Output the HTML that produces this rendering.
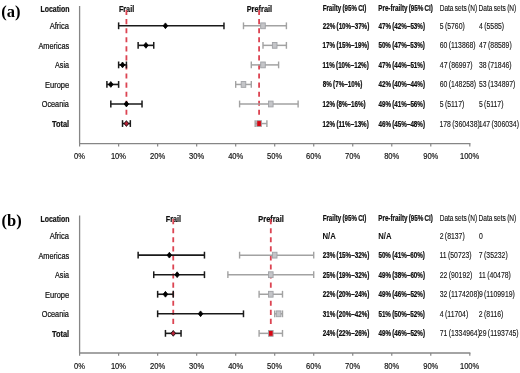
<!DOCTYPE html>
<html><head><meta charset="utf-8"><style>
html,body{margin:0;padding:0;background:#fff;}
svg{display:block;will-change:transform;}
text{font-family:"Liberation Sans",sans-serif;}
text.serif{font-family:"Liberation Serif",serif;}
</style></head><body>
<svg width="520" height="373" viewBox="0 0 520 373">
<rect width="520" height="373" fill="#fff"/>
<line x1="79.6" y1="6" x2="79.6" y2="143.6" stroke="#868686" stroke-width="1.3"/>
<line x1="79.0" y1="143.6" x2="470.4" y2="143.6" stroke="#868686" stroke-width="1.4"/>
<line x1="79.60" y1="143.6" x2="79.60" y2="146.4" stroke="#868686" stroke-width="1.2"/>
<text x="74.11" y="159.00" font-size="9.0" font-weight="normal" textLength="10.94" lengthAdjust="spacingAndGlyphs" fill="#111" stroke="#111" stroke-width="0.18">0%</text>
<line x1="118.62" y1="143.6" x2="118.62" y2="146.4" stroke="#868686" stroke-width="1.2"/>
<text x="110.90" y="159.00" font-size="9.0" font-weight="normal" textLength="15.14" lengthAdjust="spacingAndGlyphs" fill="#111" stroke="#111" stroke-width="0.18">10%</text>
<line x1="157.64" y1="143.6" x2="157.64" y2="146.4" stroke="#868686" stroke-width="1.2"/>
<text x="150.02" y="159.00" font-size="9.0" font-weight="normal" textLength="15.14" lengthAdjust="spacingAndGlyphs" fill="#111" stroke="#111" stroke-width="0.18">20%</text>
<line x1="196.66" y1="143.6" x2="196.66" y2="146.4" stroke="#868686" stroke-width="1.2"/>
<text x="189.07" y="159.00" font-size="9.0" font-weight="normal" textLength="15.14" lengthAdjust="spacingAndGlyphs" fill="#111" stroke="#111" stroke-width="0.18">30%</text>
<line x1="235.68" y1="143.6" x2="235.68" y2="146.4" stroke="#868686" stroke-width="1.2"/>
<text x="228.17" y="159.00" font-size="9.0" font-weight="normal" textLength="15.14" lengthAdjust="spacingAndGlyphs" fill="#111" stroke="#111" stroke-width="0.18">40%</text>
<line x1="274.70" y1="143.6" x2="274.70" y2="146.4" stroke="#868686" stroke-width="1.2"/>
<text x="267.11" y="159.00" font-size="9.0" font-weight="normal" textLength="15.14" lengthAdjust="spacingAndGlyphs" fill="#111" stroke="#111" stroke-width="0.18">50%</text>
<line x1="313.72" y1="143.6" x2="313.72" y2="146.4" stroke="#868686" stroke-width="1.2"/>
<text x="306.10" y="159.00" font-size="9.0" font-weight="normal" textLength="15.14" lengthAdjust="spacingAndGlyphs" fill="#111" stroke="#111" stroke-width="0.18">60%</text>
<line x1="352.74" y1="143.6" x2="352.74" y2="146.4" stroke="#868686" stroke-width="1.2"/>
<text x="345.12" y="159.00" font-size="9.0" font-weight="normal" textLength="15.14" lengthAdjust="spacingAndGlyphs" fill="#111" stroke="#111" stroke-width="0.18">70%</text>
<line x1="391.76" y1="143.6" x2="391.76" y2="146.4" stroke="#868686" stroke-width="1.2"/>
<text x="384.16" y="159.00" font-size="9.0" font-weight="normal" textLength="15.14" lengthAdjust="spacingAndGlyphs" fill="#111" stroke="#111" stroke-width="0.18">80%</text>
<line x1="430.78" y1="143.6" x2="430.78" y2="146.4" stroke="#868686" stroke-width="1.2"/>
<text x="423.18" y="159.00" font-size="9.0" font-weight="normal" textLength="15.14" lengthAdjust="spacingAndGlyphs" fill="#111" stroke="#111" stroke-width="0.18">90%</text>
<line x1="469.80" y1="143.6" x2="469.80" y2="146.4" stroke="#868686" stroke-width="1.2"/>
<text x="459.96" y="159.00" font-size="9.0" font-weight="normal" textLength="19.35" lengthAdjust="spacingAndGlyphs" fill="#111" stroke="#111" stroke-width="0.18">100%</text>
<text x="1.2" y="17.0" class="serif" font-size="16.5" font-weight="bold" fill="#000">(a)</text>
<text x="40.55" y="12.10" font-size="8.5" font-weight="bold" textLength="28.88" lengthAdjust="spacingAndGlyphs" fill="#111" stroke="#111" stroke-width="0.22">Location</text>
<text x="118.90" y="12.10" font-size="8.5" font-weight="bold" textLength="15.25" lengthAdjust="spacingAndGlyphs" fill="#111" stroke="#111" stroke-width="0.22">Frail</text>
<text x="246.66" y="12.10" font-size="8.5" font-weight="bold" textLength="25.47" lengthAdjust="spacingAndGlyphs" fill="#111" stroke="#111" stroke-width="0.22">Prefrail</text>
<text x="322.70" y="10.80" font-size="8.3" font-weight="bold" textLength="43.71" lengthAdjust="spacingAndGlyphs" fill="#111" stroke="#111" stroke-width="0.24">Frailty (95% CI)</text>
<text x="378.29" y="10.80" font-size="8.3" font-weight="bold" textLength="54.60" lengthAdjust="spacingAndGlyphs" fill="#111" stroke="#111" stroke-width="0.24">Pre-frailty (95% CI)</text>
<text x="439.68" y="10.80" font-size="8.3" font-weight="normal" textLength="37.45" lengthAdjust="spacingAndGlyphs" fill="#111" stroke="#111" stroke-width="0.12">Data sets (N)</text>
<text x="478.57" y="10.80" font-size="8.3" font-weight="normal" textLength="37.76" lengthAdjust="spacingAndGlyphs" fill="#111" stroke="#111" stroke-width="0.12">Data sets (N)</text>
<line x1="126.42" y1="10.0" x2="126.42" y2="115.2" stroke="#dc4452" stroke-width="1.8" stroke-dasharray="5.1 3.97"/>
<line x1="259.09" y1="10.0" x2="259.09" y2="115.2" stroke="#dc4452" stroke-width="1.8" stroke-dasharray="5.1 3.97"/>
<text x="49.70" y="29.20" font-size="8.5" font-weight="normal" textLength="19.31" lengthAdjust="spacingAndGlyphs" fill="#111" stroke="#111" stroke-width="0.22">Africa</text>
<line x1="243.48" y1="25.80" x2="286.41" y2="25.80" stroke="#a2a2a2" stroke-width="1.5"/>
<line x1="243.48" y1="22.40" x2="243.48" y2="29.20" stroke="#a2a2a2" stroke-width="1.4"/>
<line x1="286.41" y1="22.40" x2="286.41" y2="29.20" stroke="#a2a2a2" stroke-width="1.4"/>
<rect x="260.69" y="22.90" width="4.6" height="5.8" fill="#c4c5c8" stroke="#a0a2a6" stroke-width="0.9"/>
<line x1="118.62" y1="25.80" x2="223.97" y2="25.80" stroke="#1a1a1a" stroke-width="1.6"/>
<line x1="118.62" y1="22.40" x2="118.62" y2="29.20" stroke="#1a1a1a" stroke-width="1.5"/>
<line x1="223.97" y1="22.40" x2="223.97" y2="29.20" stroke="#1a1a1a" stroke-width="1.5"/>
<path d="M165.44 22.90 L167.74 25.80 L165.44 28.70 L163.14 25.80Z" fill="#000" stroke="#000" stroke-width="0.8"/>
<text x="322.78" y="28.80" font-size="8.3" font-weight="bold" textLength="46.51" lengthAdjust="spacingAndGlyphs" fill="#111" stroke="#111" stroke-width="0.24">22% (10%–37%)</text>
<text x="378.51" y="28.80" font-size="8.3" font-weight="bold" textLength="46.51" lengthAdjust="spacingAndGlyphs" fill="#111" stroke="#111" stroke-width="0.24">47% (42%–53%)</text>
<text x="439.73" y="28.80" font-size="8.3" font-weight="normal" textLength="25.03" lengthAdjust="spacingAndGlyphs" fill="#111" stroke="#111" stroke-width="0.12">5 (5760)</text>
<text x="479.06" y="28.80" font-size="8.3" font-weight="normal" textLength="25.03" lengthAdjust="spacingAndGlyphs" fill="#111" stroke="#111" stroke-width="0.12">4 (5585)</text>
<text x="38.40" y="48.75" font-size="8.5" font-weight="normal" textLength="30.84" lengthAdjust="spacingAndGlyphs" fill="#111" stroke="#111" stroke-width="0.22">Americas</text>
<line x1="262.99" y1="45.35" x2="286.41" y2="45.35" stroke="#a2a2a2" stroke-width="1.5"/>
<line x1="262.99" y1="41.95" x2="262.99" y2="48.75" stroke="#a2a2a2" stroke-width="1.4"/>
<line x1="286.41" y1="41.95" x2="286.41" y2="48.75" stroke="#a2a2a2" stroke-width="1.4"/>
<rect x="272.40" y="42.45" width="4.6" height="5.8" fill="#c4c5c8" stroke="#a0a2a6" stroke-width="0.9"/>
<line x1="138.13" y1="45.35" x2="153.74" y2="45.35" stroke="#1a1a1a" stroke-width="1.6"/>
<line x1="138.13" y1="41.95" x2="138.13" y2="48.75" stroke="#1a1a1a" stroke-width="1.5"/>
<line x1="153.74" y1="41.95" x2="153.74" y2="48.75" stroke="#1a1a1a" stroke-width="1.5"/>
<path d="M145.93 42.45 L148.23 45.35 L145.93 48.25 L143.63 45.35Z" fill="#000" stroke="#000" stroke-width="0.8"/>
<text x="322.62" y="48.35" font-size="8.3" font-weight="bold" textLength="46.51" lengthAdjust="spacingAndGlyphs" fill="#111" stroke="#111" stroke-width="0.24">17% (15%–19%)</text>
<text x="378.41" y="48.35" font-size="8.3" font-weight="bold" textLength="46.51" lengthAdjust="spacingAndGlyphs" fill="#111" stroke="#111" stroke-width="0.24">50% (47%–53%)</text>
<text x="439.66" y="48.35" font-size="8.3" font-weight="normal" textLength="35.96" lengthAdjust="spacingAndGlyphs" fill="#111" stroke="#111" stroke-width="0.12">60 (113868)</text>
<text x="479.06" y="48.35" font-size="8.3" font-weight="normal" textLength="32.66" lengthAdjust="spacingAndGlyphs" fill="#111" stroke="#111" stroke-width="0.12">47 (88589)</text>
<text x="55.00" y="68.30" font-size="8.5" font-weight="normal" textLength="14.00" lengthAdjust="spacingAndGlyphs" fill="#111" stroke="#111" stroke-width="0.22">Asia</text>
<line x1="251.29" y1="64.90" x2="278.60" y2="64.90" stroke="#a2a2a2" stroke-width="1.5"/>
<line x1="251.29" y1="61.50" x2="251.29" y2="68.30" stroke="#a2a2a2" stroke-width="1.4"/>
<line x1="278.60" y1="61.50" x2="278.60" y2="68.30" stroke="#a2a2a2" stroke-width="1.4"/>
<rect x="260.69" y="62.00" width="4.6" height="5.8" fill="#c4c5c8" stroke="#a0a2a6" stroke-width="0.9"/>
<line x1="118.62" y1="64.90" x2="126.42" y2="64.90" stroke="#1a1a1a" stroke-width="1.6"/>
<line x1="118.62" y1="61.50" x2="118.62" y2="68.30" stroke="#1a1a1a" stroke-width="1.5"/>
<line x1="126.42" y1="61.50" x2="126.42" y2="68.30" stroke="#1a1a1a" stroke-width="1.5"/>
<path d="M122.52 62.00 L124.82 64.90 L122.52 67.80 L120.22 64.90Z" fill="#000" stroke="#000" stroke-width="0.8"/>
<text x="322.62" y="67.90" font-size="8.3" font-weight="bold" textLength="46.17" lengthAdjust="spacingAndGlyphs" fill="#111" stroke="#111" stroke-width="0.24">11% (10%–12%)</text>
<text x="378.51" y="67.90" font-size="8.3" font-weight="bold" textLength="46.51" lengthAdjust="spacingAndGlyphs" fill="#111" stroke="#111" stroke-width="0.24">47% (44%–51%)</text>
<text x="439.86" y="67.90" font-size="8.3" font-weight="normal" textLength="32.66" lengthAdjust="spacingAndGlyphs" fill="#111" stroke="#111" stroke-width="0.12">47 (86997)</text>
<text x="478.93" y="67.90" font-size="8.3" font-weight="normal" textLength="32.66" lengthAdjust="spacingAndGlyphs" fill="#111" stroke="#111" stroke-width="0.12">38 (71846)</text>
<text x="45.00" y="87.85" font-size="8.5" font-weight="normal" textLength="24.24" lengthAdjust="spacingAndGlyphs" fill="#111" stroke="#111" stroke-width="0.22">Europe</text>
<line x1="235.68" y1="84.45" x2="251.29" y2="84.45" stroke="#a2a2a2" stroke-width="1.5"/>
<line x1="235.68" y1="81.05" x2="235.68" y2="87.85" stroke="#a2a2a2" stroke-width="1.4"/>
<line x1="251.29" y1="81.05" x2="251.29" y2="87.85" stroke="#a2a2a2" stroke-width="1.4"/>
<rect x="241.18" y="81.55" width="4.6" height="5.8" fill="#c4c5c8" stroke="#a0a2a6" stroke-width="0.9"/>
<line x1="106.91" y1="84.45" x2="118.62" y2="84.45" stroke="#1a1a1a" stroke-width="1.6"/>
<line x1="106.91" y1="81.05" x2="106.91" y2="87.85" stroke="#1a1a1a" stroke-width="1.5"/>
<line x1="118.62" y1="81.05" x2="118.62" y2="87.85" stroke="#1a1a1a" stroke-width="1.5"/>
<path d="M110.82 81.55 L113.12 84.45 L110.82 87.35 L108.52 84.45Z" fill="#000" stroke="#000" stroke-width="0.8"/>
<text x="322.81" y="87.45" font-size="8.3" font-weight="bold" textLength="39.55" lengthAdjust="spacingAndGlyphs" fill="#111" stroke="#111" stroke-width="0.24">8% (7%–10%)</text>
<text x="378.51" y="87.45" font-size="8.3" font-weight="bold" textLength="46.51" lengthAdjust="spacingAndGlyphs" fill="#111" stroke="#111" stroke-width="0.24">42% (40%–44%)</text>
<text x="439.66" y="87.45" font-size="8.3" font-weight="normal" textLength="36.47" lengthAdjust="spacingAndGlyphs" fill="#111" stroke="#111" stroke-width="0.12">60 (148258)</text>
<text x="478.93" y="87.45" font-size="8.3" font-weight="normal" textLength="36.47" lengthAdjust="spacingAndGlyphs" fill="#111" stroke="#111" stroke-width="0.12">53 (134897)</text>
<text x="41.77" y="107.40" font-size="8.5" font-weight="normal" textLength="27.13" lengthAdjust="spacingAndGlyphs" fill="#111" stroke="#111" stroke-width="0.22">Oceania</text>
<line x1="239.58" y1="104.00" x2="298.11" y2="104.00" stroke="#a2a2a2" stroke-width="1.5"/>
<line x1="239.58" y1="100.60" x2="239.58" y2="107.40" stroke="#a2a2a2" stroke-width="1.4"/>
<line x1="298.11" y1="100.60" x2="298.11" y2="107.40" stroke="#a2a2a2" stroke-width="1.4"/>
<rect x="268.50" y="101.10" width="4.6" height="5.8" fill="#c4c5c8" stroke="#a0a2a6" stroke-width="0.9"/>
<line x1="110.82" y1="104.00" x2="142.03" y2="104.00" stroke="#1a1a1a" stroke-width="1.6"/>
<line x1="110.82" y1="100.60" x2="110.82" y2="107.40" stroke="#1a1a1a" stroke-width="1.5"/>
<line x1="142.03" y1="100.60" x2="142.03" y2="107.40" stroke="#1a1a1a" stroke-width="1.5"/>
<path d="M126.42 101.10 L128.72 104.00 L126.42 106.90 L124.12 104.00Z" fill="#000" stroke="#000" stroke-width="0.8"/>
<text x="322.62" y="107.00" font-size="8.3" font-weight="bold" textLength="43.03" lengthAdjust="spacingAndGlyphs" fill="#111" stroke="#111" stroke-width="0.24">12% (8%–16%)</text>
<text x="378.51" y="107.00" font-size="8.3" font-weight="bold" textLength="46.51" lengthAdjust="spacingAndGlyphs" fill="#111" stroke="#111" stroke-width="0.24">49% (41%–56%)</text>
<text x="439.73" y="107.00" font-size="8.3" font-weight="normal" textLength="24.52" lengthAdjust="spacingAndGlyphs" fill="#111" stroke="#111" stroke-width="0.12">5 (5117)</text>
<text x="478.93" y="107.00" font-size="8.3" font-weight="normal" textLength="24.52" lengthAdjust="spacingAndGlyphs" fill="#111" stroke="#111" stroke-width="0.12">5 (5117)</text>
<text x="51.93" y="126.95" font-size="8.5" font-weight="bold" textLength="17.19" lengthAdjust="spacingAndGlyphs" fill="#111" stroke="#111" stroke-width="0.22">Total</text>
<line x1="255.19" y1="123.55" x2="266.90" y2="123.55" stroke="#a2a2a2" stroke-width="1.5"/>
<line x1="255.19" y1="120.15" x2="255.19" y2="126.95" stroke="#a2a2a2" stroke-width="1.4"/>
<line x1="266.90" y1="120.15" x2="266.90" y2="126.95" stroke="#a2a2a2" stroke-width="1.4"/>
<rect x="256.79" y="120.65" width="4.6" height="5.8" fill="#d80814" stroke="#a0a2a6" stroke-width="0.9"/>
<line x1="122.52" y1="123.55" x2="130.33" y2="123.55" stroke="#1a1a1a" stroke-width="1.6"/>
<line x1="122.52" y1="120.15" x2="122.52" y2="126.95" stroke="#1a1a1a" stroke-width="1.5"/>
<line x1="130.33" y1="120.15" x2="130.33" y2="126.95" stroke="#1a1a1a" stroke-width="1.5"/>
<path d="M126.42 120.65 L128.72 123.55 L126.42 126.45 L124.12 123.55Z" fill="#b82238" stroke="#000" stroke-width="0.8"/>
<text x="322.62" y="126.55" font-size="8.3" font-weight="bold" textLength="46.17" lengthAdjust="spacingAndGlyphs" fill="#111" stroke="#111" stroke-width="0.24">12% (11%–13%)</text>
<text x="378.51" y="126.55" font-size="8.3" font-weight="bold" textLength="46.51" lengthAdjust="spacingAndGlyphs" fill="#111" stroke="#111" stroke-width="0.24">46% (45%–48%)</text>
<text x="439.49" y="126.55" font-size="8.3" font-weight="normal" textLength="40.29" lengthAdjust="spacingAndGlyphs" fill="#111" stroke="#111" stroke-width="0.12">178 (360438)</text>
<text x="478.69" y="126.55" font-size="8.3" font-weight="normal" textLength="40.29" lengthAdjust="spacingAndGlyphs" fill="#111" stroke="#111" stroke-width="0.12">147 (306034)</text>
<line x1="79.6" y1="215.5" x2="79.6" y2="353.0" stroke="#868686" stroke-width="1.3"/>
<line x1="79.0" y1="353.0" x2="470.4" y2="353.0" stroke="#868686" stroke-width="1.4"/>
<line x1="79.60" y1="353.0" x2="79.60" y2="355.8" stroke="#868686" stroke-width="1.2"/>
<text x="74.11" y="368.80" font-size="9.0" font-weight="normal" textLength="10.94" lengthAdjust="spacingAndGlyphs" fill="#111" stroke="#111" stroke-width="0.18">0%</text>
<line x1="118.62" y1="353.0" x2="118.62" y2="355.8" stroke="#868686" stroke-width="1.2"/>
<text x="110.90" y="368.80" font-size="9.0" font-weight="normal" textLength="15.14" lengthAdjust="spacingAndGlyphs" fill="#111" stroke="#111" stroke-width="0.18">10%</text>
<line x1="157.64" y1="353.0" x2="157.64" y2="355.8" stroke="#868686" stroke-width="1.2"/>
<text x="150.02" y="368.80" font-size="9.0" font-weight="normal" textLength="15.14" lengthAdjust="spacingAndGlyphs" fill="#111" stroke="#111" stroke-width="0.18">20%</text>
<line x1="196.66" y1="353.0" x2="196.66" y2="355.8" stroke="#868686" stroke-width="1.2"/>
<text x="189.07" y="368.80" font-size="9.0" font-weight="normal" textLength="15.14" lengthAdjust="spacingAndGlyphs" fill="#111" stroke="#111" stroke-width="0.18">30%</text>
<line x1="235.68" y1="353.0" x2="235.68" y2="355.8" stroke="#868686" stroke-width="1.2"/>
<text x="228.17" y="368.80" font-size="9.0" font-weight="normal" textLength="15.14" lengthAdjust="spacingAndGlyphs" fill="#111" stroke="#111" stroke-width="0.18">40%</text>
<line x1="274.70" y1="353.0" x2="274.70" y2="355.8" stroke="#868686" stroke-width="1.2"/>
<text x="267.11" y="368.80" font-size="9.0" font-weight="normal" textLength="15.14" lengthAdjust="spacingAndGlyphs" fill="#111" stroke="#111" stroke-width="0.18">50%</text>
<line x1="313.72" y1="353.0" x2="313.72" y2="355.8" stroke="#868686" stroke-width="1.2"/>
<text x="306.10" y="368.80" font-size="9.0" font-weight="normal" textLength="15.14" lengthAdjust="spacingAndGlyphs" fill="#111" stroke="#111" stroke-width="0.18">60%</text>
<line x1="352.74" y1="353.0" x2="352.74" y2="355.8" stroke="#868686" stroke-width="1.2"/>
<text x="345.12" y="368.80" font-size="9.0" font-weight="normal" textLength="15.14" lengthAdjust="spacingAndGlyphs" fill="#111" stroke="#111" stroke-width="0.18">70%</text>
<line x1="391.76" y1="353.0" x2="391.76" y2="355.8" stroke="#868686" stroke-width="1.2"/>
<text x="384.16" y="368.80" font-size="9.0" font-weight="normal" textLength="15.14" lengthAdjust="spacingAndGlyphs" fill="#111" stroke="#111" stroke-width="0.18">80%</text>
<line x1="430.78" y1="353.0" x2="430.78" y2="355.8" stroke="#868686" stroke-width="1.2"/>
<text x="423.18" y="368.80" font-size="9.0" font-weight="normal" textLength="15.14" lengthAdjust="spacingAndGlyphs" fill="#111" stroke="#111" stroke-width="0.18">90%</text>
<line x1="469.80" y1="353.0" x2="469.80" y2="355.8" stroke="#868686" stroke-width="1.2"/>
<text x="459.96" y="368.80" font-size="9.0" font-weight="normal" textLength="19.35" lengthAdjust="spacingAndGlyphs" fill="#111" stroke="#111" stroke-width="0.18">100%</text>
<text x="1.5" y="226.1" class="serif" font-size="16.5" font-weight="bold" fill="#000">(b)</text>
<text x="40.55" y="221.80" font-size="8.5" font-weight="bold" textLength="28.88" lengthAdjust="spacingAndGlyphs" fill="#111" stroke="#111" stroke-width="0.22">Location</text>
<text x="165.73" y="221.80" font-size="8.5" font-weight="bold" textLength="15.25" lengthAdjust="spacingAndGlyphs" fill="#111" stroke="#111" stroke-width="0.22">Frail</text>
<text x="258.37" y="221.80" font-size="8.5" font-weight="bold" textLength="25.47" lengthAdjust="spacingAndGlyphs" fill="#111" stroke="#111" stroke-width="0.22">Prefrail</text>
<text x="322.70" y="220.60" font-size="8.3" font-weight="bold" textLength="43.71" lengthAdjust="spacingAndGlyphs" fill="#111" stroke="#111" stroke-width="0.24">Frailty (95% CI)</text>
<text x="378.29" y="220.60" font-size="8.3" font-weight="bold" textLength="54.60" lengthAdjust="spacingAndGlyphs" fill="#111" stroke="#111" stroke-width="0.24">Pre-frailty (95% CI)</text>
<text x="439.68" y="220.60" font-size="8.3" font-weight="normal" textLength="37.45" lengthAdjust="spacingAndGlyphs" fill="#111" stroke="#111" stroke-width="0.12">Data sets (N)</text>
<text x="478.57" y="220.60" font-size="8.3" font-weight="normal" textLength="37.76" lengthAdjust="spacingAndGlyphs" fill="#111" stroke="#111" stroke-width="0.12">Data sets (N)</text>
<line x1="173.25" y1="219.1" x2="173.25" y2="324.4" stroke="#dc4452" stroke-width="1.8" stroke-dasharray="5.1 3.97"/>
<line x1="270.80" y1="219.1" x2="270.80" y2="324.4" stroke="#dc4452" stroke-width="1.8" stroke-dasharray="5.1 3.97"/>
<text x="49.70" y="239.00" font-size="8.5" font-weight="normal" textLength="19.31" lengthAdjust="spacingAndGlyphs" fill="#111" stroke="#111" stroke-width="0.22">Africa</text>
<text x="322.50" y="238.60" font-size="8.3" font-weight="bold" textLength="13.31" lengthAdjust="spacingAndGlyphs" fill="#111" stroke="#111" stroke-width="0.05">N/A</text>
<text x="378.30" y="238.60" font-size="8.3" font-weight="bold" textLength="13.21" lengthAdjust="spacingAndGlyphs" fill="#111" stroke="#111" stroke-width="0.05">N/A</text>
<text x="439.66" y="238.60" font-size="8.3" font-weight="normal" textLength="25.03" lengthAdjust="spacingAndGlyphs" fill="#111" stroke="#111" stroke-width="0.12">2 (8137)</text>
<text x="478.93" y="238.60" font-size="8.3" font-weight="normal" textLength="3.82" lengthAdjust="spacingAndGlyphs" fill="#111" stroke="#111" stroke-width="0.12">0</text>
<text x="38.40" y="258.55" font-size="8.5" font-weight="normal" textLength="30.84" lengthAdjust="spacingAndGlyphs" fill="#111" stroke="#111" stroke-width="0.22">Americas</text>
<line x1="239.58" y1="255.15" x2="313.72" y2="255.15" stroke="#a2a2a2" stroke-width="1.5"/>
<line x1="239.58" y1="251.75" x2="239.58" y2="258.55" stroke="#a2a2a2" stroke-width="1.4"/>
<line x1="313.72" y1="251.75" x2="313.72" y2="258.55" stroke="#a2a2a2" stroke-width="1.4"/>
<rect x="272.40" y="252.25" width="4.6" height="5.8" fill="#c4c5c8" stroke="#a0a2a6" stroke-width="0.9"/>
<line x1="138.13" y1="255.15" x2="204.46" y2="255.15" stroke="#1a1a1a" stroke-width="1.6"/>
<line x1="138.13" y1="251.75" x2="138.13" y2="258.55" stroke="#1a1a1a" stroke-width="1.5"/>
<line x1="204.46" y1="251.75" x2="204.46" y2="258.55" stroke="#1a1a1a" stroke-width="1.5"/>
<path d="M169.35 252.25 L171.65 255.15 L169.35 258.05 L167.05 255.15Z" fill="#000" stroke="#000" stroke-width="0.8"/>
<text x="322.78" y="258.15" font-size="8.3" font-weight="bold" textLength="46.51" lengthAdjust="spacingAndGlyphs" fill="#111" stroke="#111" stroke-width="0.24">23% (15%–32%)</text>
<text x="378.41" y="258.15" font-size="8.3" font-weight="bold" textLength="46.51" lengthAdjust="spacingAndGlyphs" fill="#111" stroke="#111" stroke-width="0.24">50% (41%–60%)</text>
<text x="439.49" y="258.15" font-size="8.3" font-weight="normal" textLength="32.15" lengthAdjust="spacingAndGlyphs" fill="#111" stroke="#111" stroke-width="0.12">11 (50723)</text>
<text x="478.86" y="258.15" font-size="8.3" font-weight="normal" textLength="28.84" lengthAdjust="spacingAndGlyphs" fill="#111" stroke="#111" stroke-width="0.12">7 (35232)</text>
<text x="55.00" y="278.10" font-size="8.5" font-weight="normal" textLength="14.00" lengthAdjust="spacingAndGlyphs" fill="#111" stroke="#111" stroke-width="0.22">Asia</text>
<line x1="227.88" y1="274.70" x2="313.72" y2="274.70" stroke="#a2a2a2" stroke-width="1.5"/>
<line x1="227.88" y1="271.30" x2="227.88" y2="278.10" stroke="#a2a2a2" stroke-width="1.4"/>
<line x1="313.72" y1="271.30" x2="313.72" y2="278.10" stroke="#a2a2a2" stroke-width="1.4"/>
<rect x="268.50" y="271.80" width="4.6" height="5.8" fill="#c4c5c8" stroke="#a0a2a6" stroke-width="0.9"/>
<line x1="153.74" y1="274.70" x2="204.46" y2="274.70" stroke="#1a1a1a" stroke-width="1.6"/>
<line x1="153.74" y1="271.30" x2="153.74" y2="278.10" stroke="#1a1a1a" stroke-width="1.5"/>
<line x1="204.46" y1="271.30" x2="204.46" y2="278.10" stroke="#1a1a1a" stroke-width="1.5"/>
<path d="M177.15 271.80 L179.45 274.70 L177.15 277.60 L174.85 274.70Z" fill="#000" stroke="#000" stroke-width="0.8"/>
<text x="322.78" y="277.70" font-size="8.3" font-weight="bold" textLength="46.51" lengthAdjust="spacingAndGlyphs" fill="#111" stroke="#111" stroke-width="0.24">25% (19%–32%)</text>
<text x="378.51" y="277.70" font-size="8.3" font-weight="bold" textLength="46.51" lengthAdjust="spacingAndGlyphs" fill="#111" stroke="#111" stroke-width="0.24">49% (38%–60%)</text>
<text x="439.66" y="277.70" font-size="8.3" font-weight="normal" textLength="32.66" lengthAdjust="spacingAndGlyphs" fill="#111" stroke="#111" stroke-width="0.12">22 (90192)</text>
<text x="478.69" y="277.70" font-size="8.3" font-weight="normal" textLength="32.15" lengthAdjust="spacingAndGlyphs" fill="#111" stroke="#111" stroke-width="0.12">11 (40478)</text>
<text x="45.00" y="297.65" font-size="8.5" font-weight="normal" textLength="24.24" lengthAdjust="spacingAndGlyphs" fill="#111" stroke="#111" stroke-width="0.22">Europe</text>
<line x1="259.09" y1="294.25" x2="282.50" y2="294.25" stroke="#a2a2a2" stroke-width="1.5"/>
<line x1="259.09" y1="290.85" x2="259.09" y2="297.65" stroke="#a2a2a2" stroke-width="1.4"/>
<line x1="282.50" y1="290.85" x2="282.50" y2="297.65" stroke="#a2a2a2" stroke-width="1.4"/>
<rect x="268.50" y="291.35" width="4.6" height="5.8" fill="#c4c5c8" stroke="#a0a2a6" stroke-width="0.9"/>
<line x1="157.64" y1="294.25" x2="173.25" y2="294.25" stroke="#1a1a1a" stroke-width="1.6"/>
<line x1="157.64" y1="290.85" x2="157.64" y2="297.65" stroke="#1a1a1a" stroke-width="1.5"/>
<line x1="173.25" y1="290.85" x2="173.25" y2="297.65" stroke="#1a1a1a" stroke-width="1.5"/>
<path d="M165.44 291.35 L167.74 294.25 L165.44 297.15 L163.14 294.25Z" fill="#000" stroke="#000" stroke-width="0.8"/>
<text x="322.78" y="297.25" font-size="8.3" font-weight="bold" textLength="46.51" lengthAdjust="spacingAndGlyphs" fill="#111" stroke="#111" stroke-width="0.24">22% (20%–24%)</text>
<text x="378.51" y="297.25" font-size="8.3" font-weight="bold" textLength="46.51" lengthAdjust="spacingAndGlyphs" fill="#111" stroke="#111" stroke-width="0.24">49% (46%–52%)</text>
<text x="439.73" y="297.25" font-size="8.3" font-weight="normal" textLength="39.78" lengthAdjust="spacingAndGlyphs" fill="#111" stroke="#111" stroke-width="0.12">32 (1174208)</text>
<text x="478.89" y="297.25" font-size="8.3" font-weight="normal" textLength="35.96" lengthAdjust="spacingAndGlyphs" fill="#111" stroke="#111" stroke-width="0.12">9 (1109919)</text>
<text x="41.77" y="317.20" font-size="8.5" font-weight="normal" textLength="27.13" lengthAdjust="spacingAndGlyphs" fill="#111" stroke="#111" stroke-width="0.22">Oceania</text>
<line x1="274.70" y1="313.80" x2="282.50" y2="313.80" stroke="#a2a2a2" stroke-width="1.5"/>
<line x1="274.70" y1="310.40" x2="274.70" y2="317.20" stroke="#a2a2a2" stroke-width="1.4"/>
<line x1="282.50" y1="310.40" x2="282.50" y2="317.20" stroke="#a2a2a2" stroke-width="1.4"/>
<rect x="276.30" y="310.90" width="4.6" height="5.8" fill="#c4c5c8" stroke="#a0a2a6" stroke-width="0.9"/>
<line x1="157.64" y1="313.80" x2="243.48" y2="313.80" stroke="#1a1a1a" stroke-width="1.6"/>
<line x1="157.64" y1="310.40" x2="157.64" y2="317.20" stroke="#1a1a1a" stroke-width="1.5"/>
<line x1="243.48" y1="310.40" x2="243.48" y2="317.20" stroke="#1a1a1a" stroke-width="1.5"/>
<path d="M200.56 310.90 L202.86 313.80 L200.56 316.70 L198.26 313.80Z" fill="#000" stroke="#000" stroke-width="0.8"/>
<text x="322.84" y="316.80" font-size="8.3" font-weight="bold" textLength="46.51" lengthAdjust="spacingAndGlyphs" fill="#111" stroke="#111" stroke-width="0.24">31% (20%–42%)</text>
<text x="378.41" y="316.80" font-size="8.3" font-weight="bold" textLength="46.51" lengthAdjust="spacingAndGlyphs" fill="#111" stroke="#111" stroke-width="0.24">51% (50%–52%)</text>
<text x="439.86" y="316.80" font-size="8.3" font-weight="normal" textLength="28.33" lengthAdjust="spacingAndGlyphs" fill="#111" stroke="#111" stroke-width="0.12">4 (11704)</text>
<text x="478.86" y="316.80" font-size="8.3" font-weight="normal" textLength="24.52" lengthAdjust="spacingAndGlyphs" fill="#111" stroke="#111" stroke-width="0.12">2 (8116)</text>
<text x="51.93" y="336.75" font-size="8.5" font-weight="bold" textLength="17.19" lengthAdjust="spacingAndGlyphs" fill="#111" stroke="#111" stroke-width="0.22">Total</text>
<line x1="259.09" y1="333.35" x2="282.50" y2="333.35" stroke="#a2a2a2" stroke-width="1.5"/>
<line x1="259.09" y1="329.95" x2="259.09" y2="336.75" stroke="#a2a2a2" stroke-width="1.4"/>
<line x1="282.50" y1="329.95" x2="282.50" y2="336.75" stroke="#a2a2a2" stroke-width="1.4"/>
<rect x="268.50" y="330.45" width="4.6" height="5.8" fill="#d80814" stroke="#a0a2a6" stroke-width="0.9"/>
<line x1="165.44" y1="333.35" x2="181.05" y2="333.35" stroke="#1a1a1a" stroke-width="1.6"/>
<line x1="165.44" y1="329.95" x2="165.44" y2="336.75" stroke="#1a1a1a" stroke-width="1.5"/>
<line x1="181.05" y1="329.95" x2="181.05" y2="336.75" stroke="#1a1a1a" stroke-width="1.5"/>
<path d="M173.25 330.45 L175.55 333.35 L173.25 336.25 L170.95 333.35Z" fill="#b82238" stroke="#000" stroke-width="0.8"/>
<text x="322.78" y="336.35" font-size="8.3" font-weight="bold" textLength="46.51" lengthAdjust="spacingAndGlyphs" fill="#111" stroke="#111" stroke-width="0.24">24% (22%–26%)</text>
<text x="378.51" y="336.35" font-size="8.3" font-weight="bold" textLength="46.51" lengthAdjust="spacingAndGlyphs" fill="#111" stroke="#111" stroke-width="0.24">49% (46%–52%)</text>
<text x="439.66" y="336.35" font-size="8.3" font-weight="normal" textLength="40.29" lengthAdjust="spacingAndGlyphs" fill="#111" stroke="#111" stroke-width="0.12">71 (1334964)</text>
<text x="478.86" y="336.35" font-size="8.3" font-weight="normal" textLength="39.78" lengthAdjust="spacingAndGlyphs" fill="#111" stroke="#111" stroke-width="0.12">29 (1193745)</text>
</svg>
</body></html>
